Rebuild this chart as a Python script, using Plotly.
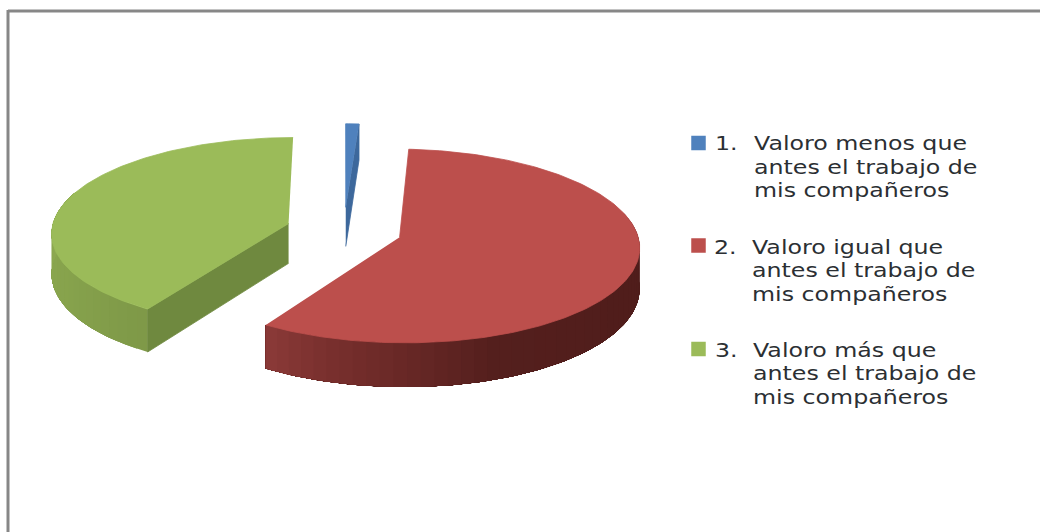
import numpy as np
import plotly.graph_objects as go

# Survey shares, in percent, in clockwise order from twelve o'clock
categories = ["1.", "2.", "3."]
values = [1.0, 58.0, 41.0]
label_lines = [
    ["Valoro menos que", "antes el trabajo de", "mis compañeros"],
    ["Valoro igual que", "antes el trabajo de", "mis compañeros"],
    ["Valoro más que", "antes el trabajo de", "mis compañeros"],
]

top_colors = ["#4f81bd", "#bc4f4c", "#9bbb59"]
cut_colors = ["#3d689c", None, "#6f893f"]
# Wall shading along the rim: (angle in degrees, RGB)
rim_shades = {
    1: [(60, (78, 28, 26)), (120, (80, 29, 27)), (160, (84, 31, 29)),
        (180, (104, 40, 38)), (198, (122, 48, 46)), (215, (142, 60, 58))],
    2: [(205, (124, 150, 70)), (240, (134, 162, 76)), (290, (144, 172, 82))],
}

# Scene geometry, in pixel units of the hidden axes
CX, CY = 344, 230
RADIUS = 237
SQUASH = 0.40
PERSPECTIVE = 0.0894
EXPLODE = 0.245
DEPTH = 40


def project(px, py, lowered=False):
    """Project plan coordinates (radius units) onto the canvas."""
    den = 1 + PERSPECTIVE * py
    sx = CX + RADIUS * px / den
    sy = CY - RADIUS * SQUASH * py / den
    if lowered:
        sy = sy + DEPTH / den
    return sx, sy


def rim(theta_deg, ox, oy):
    t = np.radians(theta_deg)
    return ox + np.sin(t), oy + np.cos(t)


def polygon(fig, xs, ys, color, edge=True):
    fig.add_trace(go.Scatter(
        x=list(xs), y=list(ys), mode="lines", fill="toself", fillcolor=color,
        line=dict(color=color, width=0.8 if edge else 0),
        hoverinfo="skip", showlegend=False,
    ))


def shade(stops, angle):
    angles = [s[0] for s in stops]
    rgb = [np.interp(angle, angles, [s[1][i] for s in stops]) for i in range(3)]
    return "rgb({:.0f},{:.0f},{:.0f})".format(*rgb)


fig = go.Figure()

shares = np.array(values) / sum(values) * 360
ends = np.cumsum(shares)
starts = ends - shares

for i, (a0, a1) in enumerate(zip(starts, ends)):
    mid = np.radians((a0 + a1) / 2)
    ox, oy = EXPLODE * np.sin(mid), EXPLODE * np.cos(mid)
    apex_top = project(ox, oy)
    apex_low = project(ox, oy, True)

    # Outer wall: each strip runs on to the far end of the wall and the next
    # one paints over it, which leaves no seams between the shades
    if i in rim_shades:
        lo = max(a0, 75)
        hi = min(a1, 290)
        edges = np.linspace(lo, hi, int((hi - lo) / 3) + 2)
        for e0 in edges[:-1]:
            arc = np.linspace(e0, hi, max(int(hi - e0), 3))
            px, py = rim(arc, ox, oy)
            tx, ty = project(px, py)
            bx, by = project(px, py, True)
            polygon(fig, np.r_[tx, bx[::-1]], np.r_[ty, by[::-1]],
                    shade(rim_shades[i], e0 + (hi - lo) / len(edges) / 2), edge=False)

    # Radial cut face that turns towards the viewer
    if cut_colors[i]:
        cut_angle = a1 if i == 0 else a0
        px, py = rim(cut_angle, ox, oy)
        tx, ty = project(px, py)
        bx, by = project(px, py, True)
        polygon(fig, [apex_top[0], tx, bx, apex_low[0]],
                [apex_top[1], ty, by, apex_low[1]], cut_colors[i])

    # Upper face
    arc = np.linspace(a0, a1, max(int(a1 - a0), 6))
    px, py = rim(arc, ox, oy)
    tx, ty = project(px, py)
    polygon(fig, np.r_[apex_top[0], tx], np.r_[apex_top[1], ty], top_colors[i])

# Key: swatches with hanging-indent captions
swatch_y = [143, 245.5, 349]
number_x = [714, 713, 714]
text_x = [753, 751, 752]
first_line_y = [143, 246.5, 349.5]
LINE_GAP = 23.5

fig.add_trace(go.Scatter(
    x=[698.5] * 3, y=swatch_y, mode="markers",
    marker=dict(symbol="square", size=14.5, color=top_colors, line=dict(width=0)),
    hoverinfo="skip", showlegend=False,
))

annotations = []
FONT = dict(family="DejaVu Sans", size=20, color="#2b2f33")
for k, lines in enumerate(label_lines):
    annotations.append(dict(x=number_x[k], y=first_line_y[k], text=categories[k],
                            xref="x", yref="y", xanchor="left", yanchor="middle", align="left",
                            showarrow=False, font=FONT, borderpad=0))
    for j, line in enumerate(lines):
        annotations.append(dict(x=text_x[k], y=first_line_y[k] + j * LINE_GAP, text=line,
                                xref="x", yref="y", xanchor="left", yanchor="middle", align="left",
                                showarrow=False, font=FONT, borderpad=0))

fig.update_layout(
    width=1040, height=532, margin=dict(l=0, r=0, t=0, b=0),
    paper_bgcolor="white", plot_bgcolor="white", showlegend=False,
    xaxis=dict(range=[0, 1040], visible=False, fixedrange=True),
    yaxis=dict(range=[532, 0], visible=False, fixedrange=True),
    annotations=annotations,
    shapes=[
        dict(type="line", xref="x", yref="y", x0=8, x1=1040, y0=11, y1=11,
             line=dict(color="#878787", width=3)),
        dict(type="line", xref="x", yref="y", x0=8, x1=8, y0=10, y1=532,
             line=dict(color="#878787", width=3)),
    ],
)

# The captions are set in a wide face: stretch the glyphs sideways a little
WIDEN = """
var gd = document.getElementById('{plot_id}');
function widen() {
  gd.querySelectorAll('.annotation-text').forEach(function (t) {
    if (!t.hasAttribute('textLength')) {
      var w = t.getComputedTextLength();
      t.setAttribute('lengthAdjust', 'spacingAndGlyphs');
      t.setAttribute('textLength', (w * 1.185).toFixed(1));
    }
  });
}
widen();
gd.on('plotly_afterplot', widen);
"""

fig.write_html("out.html", config={"displayModeBar": False}, post_script=WIDEN)
